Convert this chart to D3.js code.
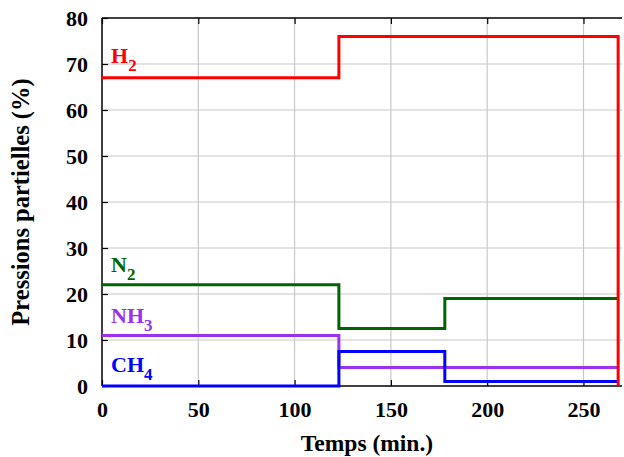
<!DOCTYPE html>
<html>
<head>
<meta charset="utf-8">
<script src="https://cdn.jsdelivr.net/npm/d3@7"></script>
<style>
html,body{margin:0;padding:0;background:#fff;}
svg{display:block;}
</style>
</head>
<body>
<svg id="chart" width="624" height="457"></svg>
<script>
// Data: step series (time in min, partial pressure in %)
const xTicks = [0, 50, 100, 150, 200, 250];
const yTicks = [0, 10, 20, 30, 40, 50, 60, 70, 80];
const stepTimes = [0, 123, 178, 268];
const seriesNames = ["N2", "NH3", "CH4", "H2"];
const h2Values  = [67, 76, 76];
const n2Values  = [22, 12.5, 19];
const nh3Values = [11, 4, 4];
const ch4Values = [0, 7.5, 1];

const FONT = '"Liberation Serif", "Times New Roman", Times, "DejaVu Serif", serif';
const colors = { H2: "#ff0000", N2: "#006400", NH3: "#9b30ef", CH4: "#0000ff" };
const valuesByName = { H2: h2Values, N2: n2Values, NH3: nh3Values, CH4: ch4Values };

const svg = d3.select("#chart");
const L = 102, R = 622, T = 18, B = 386;
const x = d3.scaleLinear().domain([0, 270]).range([L, R]);
const y = d3.scaleLinear().domain([0, 80]).range([B, T]);

// grid
const g = svg.append("g");
g.selectAll(".vg").data(xTicks.filter(d => d > 0)).enter().append("line")
  .attr("x1", d => x(d)).attr("x2", d => x(d)).attr("y1", T).attr("y2", B)
  .attr("stroke", "#c8c8c8").attr("stroke-width", 1.2);
g.selectAll(".hg").data(yTicks.filter(d => d > 0 && d < 80)).enter().append("line")
  .attr("x1", L).attr("x2", R).attr("y1", d => y(d)).attr("y2", d => y(d))
  .attr("stroke", "#c8c8c8").attr("stroke-width", 1.2);

// axes with inward ticks
const xAxisB = d3.axisBottom(x).tickValues(xTicks).tickSize(-6).tickPadding(15).tickFormat(d3.format("d"));
const xAxisT = d3.axisTop(x).tickValues(xTicks).tickSize(-6).tickFormat("");
const yAxisL = d3.axisLeft(y).tickValues(yTicks).tickSize(-6).tickPadding(14).tickFormat(d3.format("d"));

function styleAxis(sel) {
  sel.attr("font-family", FONT).attr("font-weight", "bold").attr("font-size", 22);
  sel.select(".domain").attr("stroke", "#000").attr("stroke-width", 1.5);
  sel.selectAll(".tick line").attr("stroke", "#000").attr("stroke-width", 1.2);
  sel.selectAll("text").attr("fill", "#000");
}
const gxb = svg.append("g").attr("transform", `translate(0,${B})`).call(xAxisB).call(styleAxis);
gxb.select(".domain").attr("d", `M${L},0H${R}`);
const gxt = svg.append("g").attr("transform", `translate(0,${T})`).call(xAxisT).call(styleAxis);
gxt.select(".domain").attr("d", `M${L},0H${R}`);
const gyl = svg.append("g").attr("transform", `translate(${L},0)`).call(yAxisL).call(styleAxis);
gyl.select(".domain").attr("d", `M0,${B}V${T}`);
gyl.selectAll(".tick text").attr("dy", "0.35em");

// step lines
function stepPoints(name) {
  const vals = valuesByName[name];
  const pts = [];
  for (let i = 0; i < vals.length; i++) {
    pts.push([stepTimes[i], vals[i]]);
    pts.push([stepTimes[i + 1], vals[i]]);
  }
  if (name === "H2") pts.push([stepTimes[stepTimes.length - 1], 0]);
  return pts;
}
const line = d3.line().x(d => x(d[0])).y(d => y(d[1]));
seriesNames.forEach(name => {
  svg.append("path").datum(stepPoints(name))
    .attr("d", line).attr("fill", "none")
    .attr("stroke", colors[name]).attr("stroke-width", 3);
});

// series labels
const labelBaselines = { H2: 63, N2: 272, NH3: 323, CH4: 372 };
const labelText = { H2: ["H", "2"], N2: ["N", "2"], NH3: ["NH", "3"], CH4: ["CH", "4"] };
seriesNames.forEach(name => {
  const t = svg.append("text").attr("x", 111).attr("y", labelBaselines[name])
    .attr("fill", colors[name]).attr("font-size", 22)
    .attr("font-family", FONT).attr("font-weight", "bold");
  t.append("tspan").text(labelText[name][0]);
  t.append("tspan").text(labelText[name][1]).attr("font-size", 17).attr("dy", 8);
});

// axis titles
svg.append("text").attr("x", (L + R) / 2 + 5).attr("y", 451).attr("text-anchor", "middle")
  .attr("font-family", FONT).attr("font-weight", "bold")
  .attr("font-size", 23.5).text("Temps (min.)");
svg.append("text").attr("transform", `translate(29,${(T + B) / 2}) rotate(-90)`)
  .attr("text-anchor", "middle").attr("font-family", FONT).attr("font-weight", "bold")
  .attr("font-size", 24.5).text("Pressions partielles (%)");
</script>
</body>
</html>
